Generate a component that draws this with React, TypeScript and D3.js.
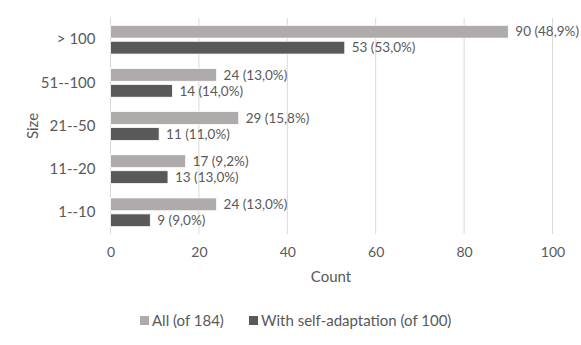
import React, { useEffect, useRef } from "react";
import * as d3 from "d3";

const categories = ["> 100", "51--100", "21--50", "11--20", "1--10"];
const allCounts = [90, 24, 29, 17, 24];
const allLabels = ["90 (48,9%)", "24 (13,0%)", "29 (15,8%)", "17 (9,2%)", "24 (13,0%)"];
const selfCounts = [53, 14, 11, 13, 9];
const selfLabels = ["53 (53,0%)", "14 (14,0%)", "11 (11,0%)", "13 (13,0%)", "9 (9,0%)"];
const xTicks = [0, 20, 40, 60, 80, 100];
const seriesNames = ["All (of 184)", "With self-adaptation (of 100)"];

const W = 581;
const H = 345;
const FONT = "Lato, 'Open Sans', sans-serif";
const TEXT = "#595959";
const LIGHT = "#afabab";
const DARK = "#595959";

export default function App() {
  const ref = useRef<SVGSVGElement>(null);

  useEffect(() => {
    const svg = d3.select(ref.current);
    svg.selectAll("*").remove();

    const left = 110.5, right = 552.5, top = 18, bottom = 234;

    const x = d3.scaleLinear().domain([0, 100]).range([left, right]);
    const y = d3.scaleBand().domain(categories).range([top, bottom]).paddingInner(0.335).paddingOuter(0.17);
    const sub = d3.scaleBand().domain(["all", "self"]).range([0, y.bandwidth()]).paddingInner(0.2);

    // gridlines
    svg.append("g")
      .selectAll("line")
      .data(xTicks)
      .join("line")
      .attr("x1", d => x(d)).attr("x2", d => x(d))
      .attr("y1", top).attr("y2", bottom)
      .attr("stroke", "#d9d9d9").attr("stroke-width", 1);

    const xAxis = svg.append("g").attr("transform", `translate(0,${bottom})`)
      .call(d3.axisBottom(x).tickValues(xTicks).tickSize(0).tickPadding(13));
    xAxis.select(".domain").remove();
    xAxis.selectAll("text").attr("fill", TEXT).style("font-family", FONT).style("font-size", "14px");

    const yAxis = svg.append("g").attr("transform", `translate(${left},0)`)
      .call(d3.axisLeft(y).tickSize(0).tickPadding(15));
    yAxis.select(".domain").remove();
    yAxis.selectAll("text").attr("fill", TEXT).style("font-family", FONT).style("font-size", "15px");

    const rows = categories.map((c, i) => ({ c, i }));

    const drawSeries = (key: string, vals: number[], labels: string[], color: string) => {
      const g = svg.append("g");
      g.selectAll("rect")
        .data(rows)
        .join("rect")
        .attr("x", x(0))
        .attr("y", d => (y(d.c) as number) + (sub(key) as number))
        .attr("width", d => x(vals[d.i]) - x(0))
        .attr("height", sub.bandwidth())
        .attr("fill", color)
        .attr("stroke", "#ffffff")
        .attr("stroke-width", 0.75);
      g.selectAll("text")
        .data(rows)
        .join("text")
        .attr("x", d => x(vals[d.i]) + 7)
        .attr("y", d => (y(d.c) as number) + (sub(key) as number) + sub.bandwidth() / 2)
        .attr("dy", "0.35em")
        .attr("fill", TEXT)
        .style("font-family", FONT)
        .style("font-size", "13.5px")
        .text(d => labels[d.i]);
    };
    drawSeries("all", allCounts, allLabels, LIGHT);
    drawSeries("self", selfCounts, selfLabels, DARK);

    svg.append("text")
      .attr("x", 331).attr("y", 282)
      .attr("text-anchor", "middle").attr("fill", TEXT)
      .style("font-family", FONT).style("font-size", "15px")
      .text("Count");

    svg.append("text")
      .attr("transform", `translate(38,${(top + bottom) / 2}) rotate(-90)`)
      .attr("text-anchor", "middle").attr("fill", TEXT)
      .style("font-family", FONT).style("font-size", "15px")
      .text("Size");

    // legend
    const legend = [
      { name: seriesNames[0], color: LIGHT, x: 140 },
      { name: seriesNames[1], color: DARK, x: 249 },
    ];
    const lg = svg.append("g");
    lg.selectAll("rect").data(legend).join("rect")
      .attr("x", d => d.x).attr("y", 316).attr("width", 9).attr("height", 9)
      .attr("fill", d => d.color);
    lg.selectAll("text").data(legend).join("text")
      .attr("x", d => d.x + 12).attr("y", 320.5).attr("dy", "0.35em")
      .attr("fill", TEXT).style("font-family", FONT).style("font-size", "15px")
      .text(d => d.name);
  }, []);

  return (
    <svg ref={ref} width={W} height={H} style={{ position: "absolute", left: 0, top: 0, background: "#fff" }} />
  );
}
